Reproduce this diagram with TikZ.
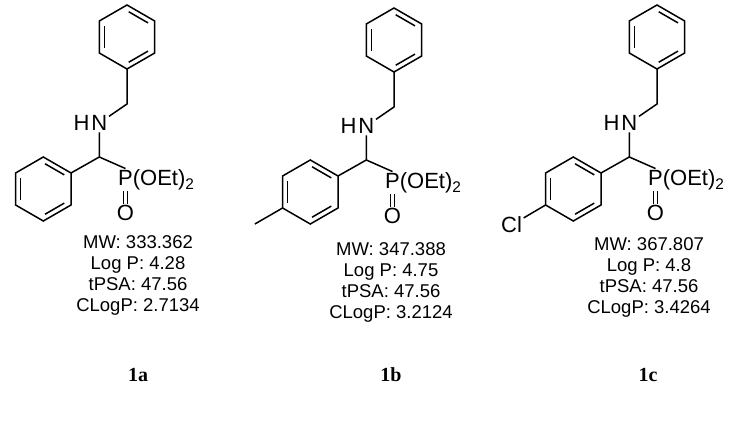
\documentclass[tikz,border=0pt]{standalone}
\usepackage{fontspec}
\setmainfont{Liberation Sans}
\newfontfamily\serifb{Liberation Serif}
\usetikzlibrary{calc}
\tikzset{
  bond/.style={line width=1.5pt},
  atom/.style={inner sep=1.5pt, font=\fontsize{22}{24}\selectfont},
  c/.style={inner sep=0pt, minimum size=0pt},
  props/.style={align=center, font=\fontsize{18.5}{21}\selectfont},
  lbl/.style={font=\fontsize{20}{22}\serifb\bfseries}
}
% ring: #1 prefix, #2 centre
\newcommand\ring[2]{%
  \coordinate (#1c) at #2;
  \foreach \n/\a in {T/90,UR/30,LR/-30,B/-90,LL/-150,UL/150}{
    \coordinate (#1\n) at ($(#1c)+(\a:32 and -32)$);}
  \draw[bond] (#1T)--(#1UR)--(#1LR)--(#1B)--(#1LL)--(#1UL)--cycle;
  \foreach \p/\q in {UL/LL,T/UR,LR/B}{
    \draw[bond,shorten <=2pt,shorten >=2pt] ($(#1c)!0.82!(#1\p)$)--($(#1c)!0.82!(#1\q)$);}
}
\newcommand\molecule[3]{%
\begin{scope}[shift={#2}]
  \ring{#1r}{(127,37)}
  \node[c] (#1CH2) at (127,104) {};
  \node[atom] (#1N) at (99.3,123) {N};
  \node[atom,anchor=east,inner sep=0pt] (#1H) at (#1N.west) {H};
  \node[c] (#1CH) at (99.3,157) {};
  \node[atom,anchor=west,inner sep=1pt] (#1P) at (117,180) {P(OEt)\textsubscript{2}};
  \coordinate (#1Pc) at (125.5,180);
  \node[atom] (#1O) at (125.5,213) {O};
  \ring{#1a}{(43.3,189)}
  \draw[bond] (#1rB)--(#1CH2.center)--(#1N);
  \draw[bond] (#1N)--(#1CH.center)--(#1aUR);
  \draw[bond] (#1CH.center)--(#1Pc|-#1P.north);
  \draw[bond,line width=1.2pt] ([xshift=-2pt]#1Pc|-#1P.south)--([xshift=-2pt]#1O.north);
  \draw[bond,line width=1.2pt] ([xshift=2pt]#1Pc|-#1P.south)--([xshift=2pt]#1O.north);
  #3
\end{scope}}
\begin{document}
\begin{tikzpicture}[x=1pt,y=-1pt]
\useasboundingbox (0,0) rectangle (736,422);
\fill[white] (0,0) rectangle (736,422);
\molecule{a}{(0,0)}{}
\molecule{b}{(267,3)}{\coordinate (bMe) at ($(baLL)+(-27.7,16)$); \draw[bond] (baLL)--(bMe);}
\molecule{c}{(530,0)}{\node[atom] (cCl) at ($(caLL)+(-34,20)$) {Cl}; \draw[bond] (caLL)--(cCl);}
\node[props] (ta) at (138,275) {MW: 333.362\\Log P: 4.28\\tPSA: 47.56\\CLogP: 2.7134};
\node[props] (tb) at (391,282) {MW: 347.388\\Log P: 4.75\\tPSA: 47.56\\CLogP: 3.2124};
\node[props] (tc) at (649,277) {MW: 367.807\\Log P: 4.8\\tPSA: 47.56\\CLogP: 3.4264};
\node[lbl] (la) at (138,375) {1a};
\node[lbl] (lb) at (391,375) {1b};
\node[lbl] (lc) at (648,375) {1c};
\end{tikzpicture}
\end{document}
